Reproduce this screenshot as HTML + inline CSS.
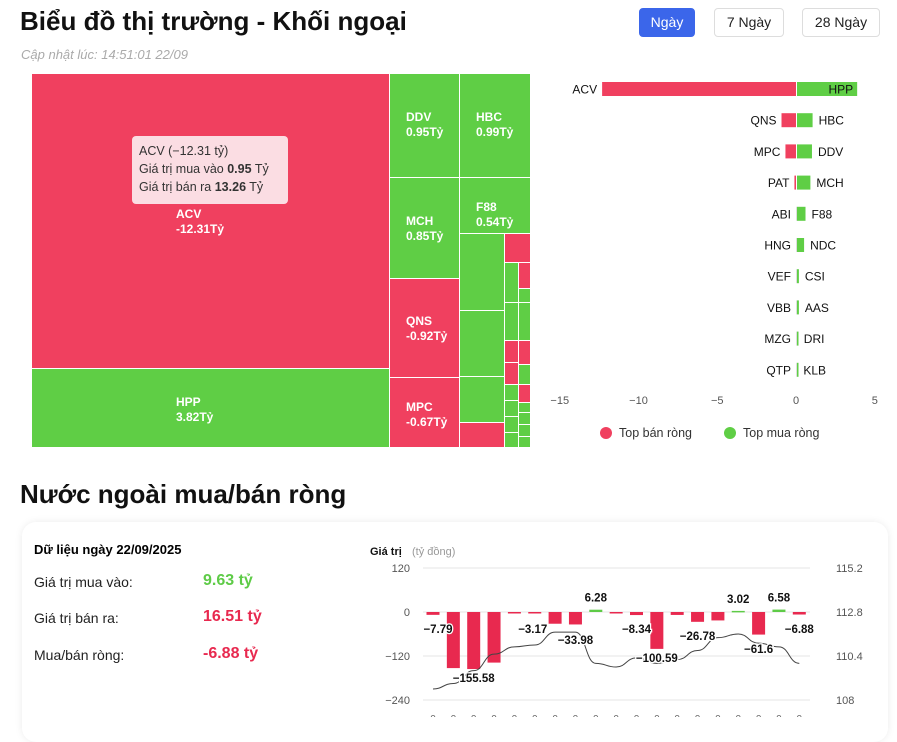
<!DOCTYPE html>
<html><head><meta charset="utf-8"><style>
body{margin:0;width:897px;height:717px;overflow:hidden;background:#fff;font-family:"Liberation Sans",sans-serif;position:relative}
.abs{position:absolute}
.btn{position:absolute;top:8px;height:27px;border:1px solid #ddd;border-radius:4px;font-size:14px;line-height:27px;text-align:center;color:#222;background:#fff}
.tm{position:absolute;box-sizing:border-box;border:1px solid #fff;color:#fff;font-size:12px;font-weight:bold;line-height:15px}
</style></head><body>
<div class="abs" style="left:20px;top:6px;font-size:26px;font-weight:bold;color:#111">Biểu đồ thị trường - Khối ngoại</div>
<div class="btn" style="left:639px;width:54px;background:#3b66ea;color:#fff;border-color:#3b66ea">Ngày</div>
<div class="btn" style="left:714px;width:68px">7 Ngày</div>
<div class="btn" style="left:802px;width:76px">28 Ngày</div>
<div class="abs" style="left:21px;top:47px;font-size:13px;font-style:italic;color:#aaa">Cập nhật lúc: 14:51:01 22/09</div>

<div id="tm" class="abs" style="left:0;top:0"></div>
<div class="abs" style="left:132px;top:136px;width:156px;height:68px;background:#fbdde3;border-radius:4px;font-size:12.5px;color:#333;line-height:18px;padding:6px 0 0 7px;box-sizing:border-box">ACV (−12.31 tỷ)<br>Giá trị mua vào <b>0.95</b> Tỷ<br>Giá trị bán ra <b>13.26</b> Tỷ</div>

<svg id="bar" class="abs" style="left:0;top:0" width="897" height="460"></svg>

<div class="abs" style="left:20px;top:479px;font-size:26px;font-weight:bold;color:#111">Nước ngoài mua/bán ròng</div>
<div class="abs" style="left:22px;top:522px;width:866px;height:220px;border-radius:14px;box-shadow:0 0 8px rgba(0,0,0,.08);background:#fff"></div>
<div class="abs" style="left:34px;top:542px;font-size:13px;font-weight:bold">Dữ liệu ngày 22/09/2025</div>
<div class="abs" style="left:34px;top:574px;font-size:14px;color:#222">Giá trị mua vào:</div>
<div class="abs" style="left:203px;top:572px;font-size:16px;font-weight:bold;color:#5ecb47">9.63 tỷ</div>
<div class="abs" style="left:34px;top:610px;font-size:14px;color:#222">Giá trị bán ra:</div>
<div class="abs" style="left:203px;top:608px;font-size:16px;font-weight:bold;color:#e8294f">16.51 tỷ</div>
<div class="abs" style="left:34px;top:647px;font-size:14px;color:#222">Mua/bán ròng:</div>
<div class="abs" style="left:203px;top:645px;font-size:16px;font-weight:bold;color:#e8294f">-6.88 tỷ</div>
<svg id="ch" class="abs" style="left:0;top:0" width="897" height="717"></svg>
<script>
const NS="http://www.w3.org/2000/svg";
function mk(p,t,a,txt){const e=document.createElementNS(NS,t);for(const k in a)e.setAttribute(k,a[k]);if(txt!=null)e.textContent=txt;p.appendChild(e);return e;}
const RED="#f0405f",GREEN="#5fce45";
// treemap
const tmNames=["ACV","HPP","DDV","MCH","QNS","MPC","HBC","F88"];
const tmValues=[-12.31,3.82,0.95,0.85,-0.92,-0.67,0.99,0.54];
const tmRects=[[31,73,358,295],[31,368,358,79],[389,73,70,104],[389,177,70,101],[389,278,70,99],[389,377,70,70],[459,73,71,104],[459,177,71,56]];
const smallCells=[[459,233,45,77,1],[459,310,45,66,1],[459,376,45,46,1],[459,422,45,25,0],[504,233,26,29,0],[504,262,14,40,1],[518,262,12,26,0],[518,288,12,14,1],[504,302,14,38,1],[518,302,12,38,1],[504,340,14,22,0],[518,340,12,24,0],[504,362,14,22,0],[518,364,12,20,1],[504,384,14,16,1],[518,384,12,18,0],[504,400,14,16,1],[518,402,12,10,1],[504,416,14,16,1],[518,412,12,12,1],[504,432,14,15,1],[518,424,12,12,1],[518,436,12,11,1]];
const tm=document.getElementById('tm');
tmNames.forEach((n,i)=>{const r=tmRects[i];const d=document.createElement('div');d.className='tm';


d.style.cssText=`left:${r[0]}px;top:${r[1]}px;width:${r[2]+1}px;height:${r[3]+1}px;background:${tmValues[i]<0?RED:GREEN}`;
const big=r[2]>200;const s=document.createElement('div');s.style.cssText=big?`position:absolute;left:${r[2]/2-35}px;top:${i==0?133:26}px`:`position:absolute;left:16px;top:${n=="F88"?22:36}px`;
if(n=="HBC")s.style.top="36px";if(n=="DDV")s.style.top="36px";if(n=="MCH")s.style.top="36px";if(n=="QNS"||n=="MPC")s.style.top=(n=="QNS"?35:22)+"px";
s.innerHTML=n+"<br>"+tmValues[i]+"Tỷ";d.appendChild(s);tm.appendChild(d);});
smallCells.forEach((r,i)=>{const d=document.createElement('div');d.className='tm';


d.style.cssText=`left:${r[0]}px;top:${r[1]}px;width:${r[2]+1}px;height:${r[3]+1}px;background:${r[4]?GREEN:RED}`;tm.appendChild(d);});
// top bar chart
const sellNames=["ACV","QNS","MPC","PAT","ABI","HNG","VEF","VBB","MZG","QTP"];
const sellValues=[-12.31,-0.92,-0.67,-0.1,0,0,0,0,0,0];
const buyNames=["HPP","HBC","DDV","MCH","F88","NDC","CSI","AAS","DRI","KLB"];
const buyValues=[3.82,0.99,0.95,0.85,0.54,0.45,0.12,0.12,0.05,0.02];
const xTicks=[-15,-10,-5,0,5];
const bs=document.getElementById('bar');
const bx=v=>796+(v)*15.75;
const by=i=>89+i*31.2;
xTicks.forEach(t=>{const e=mk(bs,'text',{x:bx(t),y:404,'text-anchor':'middle','font-size':11,fill:'#555'},t==0?"0":String(t).replace('-','−'));

});
sellNames.forEach((n,i)=>{const v=sellValues[i],y=by(i);
const r=mk(bs,'rect',{x:bx(v),y:y-7,width:Math.max(bx(0)-bx(v),1),height:14,fill:v<0?RED:'#ddd'});


const t=mk(bs,'text',{x:Math.min(bx(v),bx(0))-5,y:y+4.5,'text-anchor':'end','font-size':12,fill:'#111'},n);

});
buyNames.forEach((n,i)=>{const v=buyValues[i],y=by(i);
const r=mk(bs,'rect',{x:bx(0)+1,y:y-7,width:Math.max(bx(v)-bx(0),1.5),height:14,fill:GREEN});


const inside=i==0;
const t=mk(bs,'text',{x:inside?bx(v)-3:bx(v)+7,y:y+4.5,'text-anchor':inside?'end':'start','font-size':12,fill:'#111'},n);

});
[[606,"Top bán ròng",RED],[730,"Top mua ròng",GREEN]].forEach(l=>{const c=mk(bs,'circle',{cx:l[0],cy:433,r:6,fill:l[2]});


const t=mk(bs,'text',{x:l[0]+13,y:437,'font-size':12.5,fill:'#333'},l[1]);

});
// bottom chart
const netValues=[-7.79,-153,-155.58,-138,-1,-3.17,-32,-33.98,6.28,-3,-8.34,-100.59,-8,-26.78,-23,3.02,-61.6,6.58,-6.88];
const priceValues=[108.6,108.9,109.6,110.5,110.9,111.0,111.7,111.7,110.0,109.8,110.3,110.0,110.2,110.7,111.4,111.6,111.1,110.9,110.0];
const netLabels=["-7.79","","-155.58","","","-3.17","","-33.98","6.28","","-8.34","-100.59","","-26.78","","3.02","-61.6","6.58","-6.88"];
const leftTicks=[120,0,-120,-240];
const rightTicks=[115.2,112.8,110.4,108];
const ch=document.getElementById('ch');
const ly=v=>612-v*44/120;
const ry=v=>612-(v-112.8)*44/2.4;
const cx=i=>433+i*20.35;
mk(ch,'text',{x:370,y:555,'font-size':11,'font-weight':'bold',fill:'#111'},'Giá trị');
mk(ch,'text',{x:412,y:555,'font-size':11,fill:'#999'},'(tỷ đồng)');
leftTicks.forEach(t=>{mk(ch,'line',{x1:423,x2:810,y1:ly(t),y2:ly(t),stroke:'#e6e6e6'});
const e=mk(ch,'text',{x:410,y:ly(t)+4,'text-anchor':'end','font-size':11,fill:'#555'},String(t).replace('-','−'));

});
rightTicks.forEach(t=>{const e=mk(ch,'text',{x:836,y:ry(t)+4,'font-size':11,fill:'#555'},String(t));

});
netValues.forEach((v,i)=>{const y0=ly(0),y1=ly(v);
const r=mk(ch,'rect',{x:cx(i)-6.5,y:Math.min(y0,y1),width:13,height:Math.max(Math.abs(y1-y0),1.5),fill:v<0?'#e8294f':'#5ecb47'});

});
let d="";priceValues.forEach((v,i)=>{const x=cx(i),y=ry(v);if(i==0)d+=`M${x},${y}`;else{const px=cx(i-1),py=ry(priceValues[i-1]);d+=` C${px+10},${py} ${x-10},${y} ${x},${y}`;}});
const pl=mk(ch,'path',{d:d,fill:'none',stroke:'#444','stroke-width':1});


netLabels.forEach((l,i)=>{if(!l)return;const v=netValues[i];let y=v>0?ly(v)-8:Math.max(ly(v),ly(0)+3)+13;
if(l=="-7.79")y=633;if(l=="-3.17")y=633;if(l=="-8.34")y=633;if(l=="-26.78")y=640;if(l=="-6.88")y=633;if(l=="-33.98")y=644;if(l=="-61.6")y=653;
const e=mk(ch,'text',{x:cx(i)+(l=="-7.79"?5:l=="-3.17"?-2:0),y:y,'text-anchor':'middle','font-size':11.5,'font-weight':'bold',fill:'#111',stroke:'#fff','stroke-width':2.5,'paint-order':'stroke'},l.replace('-','−'));

});
netValues.forEach((v,i)=>{mk(ch,'text',{x:cx(i),y:722,'text-anchor':'middle','font-size':10,fill:'#666'},'0');});
</script>
</body></html>
